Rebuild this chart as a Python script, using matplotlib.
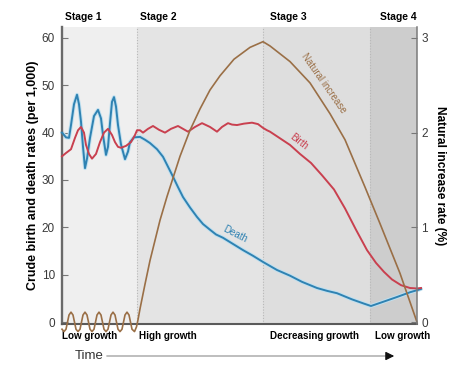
import matplotlib.pyplot as plt
import numpy as np

# time runs 0..355 (arbitrary units), stage boundaries
stage_edges = [0, 75, 201, 308, 355]
stage_names = ["Stage 1", "Stage 2", "Stage 3", "Stage 4"]
stage_growth = ["Low growth", "High growth", "Decreasing growth", "Low growth"]
stage_colors = ["#efefef", "#e4e4e4", "#dedede", "#cdcdcd"]

birth_t = [0, 4, 9, 13, 16, 19, 22, 24, 27, 30, 34, 38, 42, 46, 50, 53, 56, 59, 64, 69,
           73, 75, 78, 81, 86, 91, 97, 103, 109, 116, 121, 126, 133, 140, 148, 155, 160,
           166, 170, 175, 182, 190, 196, 201, 205, 208, 218, 228, 238, 249, 260, 272,
           283, 294, 305, 314, 322, 330, 339, 348, 355, 359]
birth = [35, 35.7, 36.5, 38.9, 40.5, 41.2, 40, 37.4, 35.5, 34.5, 35.5, 38, 40, 40.8, 39.5,
         38, 37, 36.8, 37.2, 38, 39.5, 40.5, 40.5, 40, 40.8, 41.4, 40.6, 40, 40.8, 41.4,
         40.8, 40.2, 41.2, 42, 41.2, 40.2, 41.2, 42, 41.7, 41.6, 41.9, 42.1, 41.8, 41,
         40.5, 40.2, 38.8, 37.4, 35.5, 33.6, 31, 28, 24, 19.5, 15.2, 12.5, 10.6, 9, 7.8,
         7.2, 7.1, 7.2]

death_t = [0, 4, 7, 9, 12, 15, 17, 19, 21, 23, 25, 28, 32, 36, 39, 41, 44, 46, 48, 50, 52,
           54, 56, 59, 63, 66, 68, 72, 78, 83, 88, 95, 101, 106, 111, 116, 121, 128, 135,
           141, 148, 154, 161, 171, 181, 191, 201, 215, 228, 240, 255, 265, 275, 290,
           302, 309, 320, 335, 348, 356, 359]
death = [40, 39, 38.9, 41.6, 46, 48, 46, 42.3, 37, 32.5, 34.5, 38.9, 43.5, 44.8, 43, 39.5,
         35.3, 37, 42, 46.5, 47.5, 45.5, 41.6, 37.5, 34.4, 36, 38, 39, 39.1, 38.5, 37.8,
         36.5, 34.9, 32.8, 30.7, 28.5, 26.4, 24.2, 22.2, 20.7, 19.5, 18.5, 17.8, 16.5,
         15.2, 14, 12.7, 11, 9.8, 8.5, 7.2, 6.6, 6.1, 4.8, 3.9, 3.4, 4.2, 5.3, 6.3, 6.8, 7.0]

# natural increase drawn on the per-1,000 scale (right axis = value / 20)
natural_t = [0, 2, 4, 5.5, 7, 9, 11, 12.5, 14, 16, 18, 19.5, 21, 23, 25, 26.5, 28, 30, 32,
             33.5, 35, 37, 39, 40.5, 42, 44, 46, 47.5, 49, 51, 53, 54.5, 56, 58, 60, 61.5,
             63, 65, 67, 68.5, 70, 72.5, 74.5, 76, 78, 83, 88, 98, 105, 118, 128, 138, 148,
             158, 172, 188, 201, 208, 228, 248, 268, 283, 293, 303, 318, 338, 355]
natural = [-1.5, -2.0, -1.5, 0, 1.5, 2.1, 1.5, 0, -1.5, -2.0, -1.5, 0, 1.5, 2.1, 1.5, 0,
           -1.5, -2.0, -1.5, 0, 1.5, 2.1, 1.5, 0, -1.5, -2.0, -1.5, 0, 1.5, 2.1, 1.5, 0,
           -1.5, -2.0, -1.5, 0, 1.5, 2.1, 1.5, 0, -1.5, -2.0, -1.0, 0.5, 2.8, 8, 13, 21.5,
           26.5, 35, 40.5, 45, 49, 52, 55.5, 58, 59.2, 58.3, 55, 50.5, 44, 38.5, 33.5, 28.5,
           20.8, 10.3, 0]

left_ticks = [0, 10, 20, 30, 40, 50, 60]
right_ticks = [0, 1, 2, 3]

plt.rcParams['font.family'] = ['Liberation Sans', 'DejaVu Sans']

fig = plt.figure(figsize=(4.74, 3.86), dpi=100)
ax = fig.add_axes([62 / 474, 62 / 386, 355 / 474, 297 / 386])

for i in range(4):
    ax.axvspan(stage_edges[i], stage_edges[i + 1], color=stage_colors[i], lw=0, zorder=0)
for e in stage_edges[1:4]:
    ax.axvline(e, color='#b8b8b8', lw=0.8, ls=(0, (1, 1.5)), zorder=1)

c_birth, c_death, c_nat = '#c9404f', '#2f82b2', '#9a6f46'
ax.plot(death_t, death, color='#bfe0f0', lw=2.8, clip_on=False, zorder=2, solid_capstyle='round')
ax.plot(death_t, death, color=c_death, lw=1.4, clip_on=False, zorder=3)
ax.plot(birth_t, birth, color=c_birth, lw=1.4, clip_on=False, zorder=3)
ax.plot(natural_t, natural, color=c_nat, lw=1.2, clip_on=False, zorder=4)

ax.set_xlim(0, 355)
ax.set_ylim(-0.4, 62.3)
ax.set_xticks([])
ax.set_yticks(left_ticks)
ax.tick_params(axis='y', direction='in', length=4, width=0.8, color='#777777',
               labelsize=8.5, labelcolor='#3a3a3a', pad=5)
for s in ['top', 'right']:
    ax.spines[s].set_visible(False)
ax.spines['left'].set_color('#6a6a6a')
ax.spines['left'].set_linewidth(1.7)
ax.spines['bottom'].set_color('#5a5a5a')
ax.spines['bottom'].set_linewidth(1.5)
ax.set_ylabel("Crude birth and death rates (per 1,000)", fontsize=9, fontweight='bold',
              labelpad=2)

ax2 = ax.twinx()
ax2.set_ylim(-0.4 / 20, 62.3 / 20)
ax2.set_yticks(right_ticks)
ax2.tick_params(axis='y', direction='in', length=4, width=0.8, color='#777777',
                labelsize=8.5, labelcolor='#3a3a3a', pad=3)
for s in ['top', 'left', 'bottom']:
    ax2.spines[s].set_visible(False)
ax2.spines['right'].set_color('#7a7a7a')
ax2.spines['right'].set_linewidth(1.1)
ax2.set_ylabel("Natural increase rate (%)", fontsize=8.6, fontweight='bold',
               rotation=270, labelpad=13)

# curve labels
ax.text(262, 50.5, "Natural increase", color=c_nat, fontsize=7, rotation=-55,
        ha='center', va='center', rotation_mode='anchor', zorder=5)
ax.text(237, 38.0, "Birth", color=c_birth, fontsize=7, rotation=-38,
        ha='center', va='center', rotation_mode='anchor', zorder=5)
ax.text(173, 18.6, "Death", color=c_death, fontsize=7, rotation=-27,
        ha='center', va='center', rotation_mode='anchor', zorder=5)

# stage names above, growth labels below
stage_label_x = [3, 78, 208, 318]
growth_label_x = [0, 77, 208, 313]
for x, gx, name, grow in zip(stage_label_x, growth_label_x, stage_names, stage_growth):
    ax.text(x, 1.035, name, transform=ax.get_xaxis_transform(), fontsize=7.4,
            fontweight='bold', ha='left', va='center')
    ax.text(gx, -0.04, grow, transform=ax.get_xaxis_transform(), fontsize=7.1,
            fontweight='bold', ha='left', va='center')

# time arrow
fig.text(75 / 474, 30 / 386, "Time", fontsize=9.5, color='#333333', ha='left', va='center')
ax.annotate('', xy=(392 / 474, 30 / 386), xytext=(104 / 474, 30 / 386),
            xycoords='figure fraction', textcoords='figure fraction',
            arrowprops=dict(arrowstyle='-', color='#9a9a9a', lw=0.9))
ax.annotate('', xy=(397 / 474, 30 / 386), xytext=(388 / 474, 30 / 386),
            xycoords='figure fraction', textcoords='figure fraction',
            arrowprops=dict(arrowstyle='-|>,head_length=0.5,head_width=0.25',
                            color='#111111', lw=0.9))

fig.savefig("out.png", dpi=100)
